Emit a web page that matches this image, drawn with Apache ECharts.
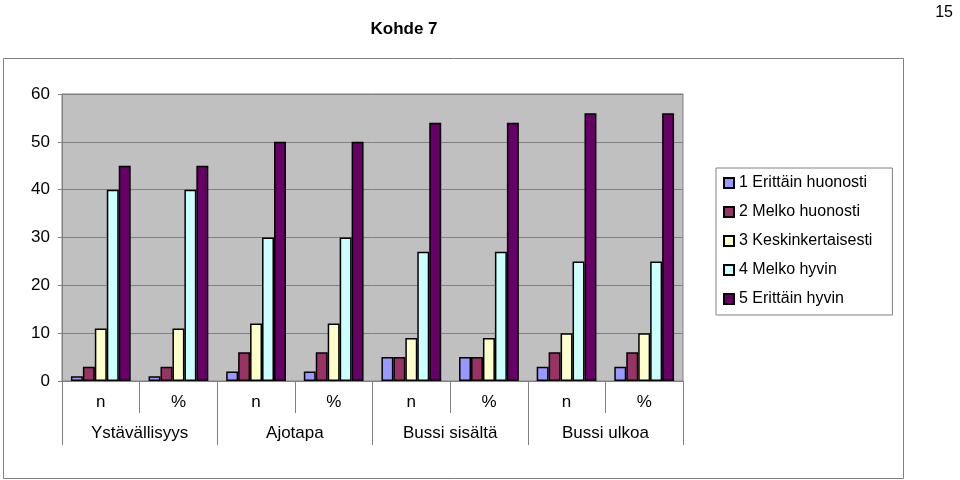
<!DOCTYPE html>
<html>
<head>
<meta charset="utf-8">
<script src="https://cdn.jsdelivr.net/npm/echarts@6/dist/echarts.min.js"></script>
<style>html,body{margin:0;padding:0;background:#fff;}#c{width:960px;height:480px;}</style>
</head>
<body>
<div id="c"></div>
<script>
var categories = ['n', '%', 'n', '%', 'n', '%', 'n', '%'];
var groups = ['Ystävällisyys', 'Ajotapa', 'Bussi sisältä', 'Bussi ulkoa'];
var seriesNames = ['1 Erittäin huonosti', '2 Melko huonosti', '3 Keskinkertaisesti', '4 Melko hyvin', '5 Erittäin hyvin'];
var s1 = [1, 1, 2, 2, 5, 5, 3, 3];
var s2 = [3, 3, 6, 6, 5, 5, 6, 6];
var s3 = [11, 11, 12, 12, 9, 9, 10, 10];
var s4 = [40, 40, 30, 30, 27, 27, 25, 25];
var s5 = [45, 45, 50, 50, 54, 54, 56, 56];
var yTicks = [0, 10, 20, 30, 40, 50, 60];

var colors = ['#9999FF', '#993366', '#FFFFCC', '#CCFFFF', '#660066'];
var values = [s1, s2, s3, s4, s5];
var font = 'Liberation Sans, Arial, sans-serif';

var chart = echarts.init(document.getElementById('c'));
chart.setOption({
  animation: false,
  textStyle: {fontFamily: font},
  title: [
    {text: 'Kohde 7', left: 399, top: 16, textAlign: 'center',
     textStyle: {fontSize: 17, fontWeight: 'bold', color: '#000', fontFamily: font}},
    {text: '15', right: 2, top: 0,
     textStyle: {fontSize: 16, fontWeight: 'normal', color: '#000', fontFamily: font}}
  ],
  graphic: [
    {type: 'rect', shape: {x: 3.5, y: 58.5, width: 900, height: 420},
     style: {fill: 'none', stroke: '#808080', lineWidth: 1}, silent: true}
  ],
  legend: {
    orient: 'vertical',
    left: 716, top: 168,
    padding: [7, 20, 8, 7],
    borderColor: '#808080', borderWidth: 1,
    itemWidth: 10, itemHeight: 10, itemGap: 13,
    icon: 'rect',
    textStyle: {fontSize: 16, color: '#000', fontFamily: font},
    data: seriesNames
  },
  grid: {
    left: 62, right: 277, top: 94, bottom: 99,
    show: true, backgroundColor: '#C0C0C0', borderColor: '#808080', borderWidth: 1
  },
  xAxis: [
    {type: 'category', data: categories, position: 'bottom', offset: 0,
     axisLine: {show: true, lineStyle: {color: '#808080'}},
     axisTick: {show: true, length: 32, lineStyle: {color: '#808080'}},
     axisLabel: {fontSize: 17, color: '#000', margin: 13, fontFamily: font}},
    {type: 'category', data: groups, position: 'bottom', offset: 0,
     axisLine: {show: false},
     axisTick: {show: true, length: 64, lineStyle: {color: '#808080'}},
     axisLabel: {fontSize: 17, color: '#000', margin: 44, fontFamily: font}}
  ],
  yAxis: {
    type: 'value', min: yTicks[0], max: yTicks[yTicks.length - 1], interval: 10,
    axisLine: {show: true, lineStyle: {color: '#808080'}},
    axisTick: {show: true, length: 4, lineStyle: {color: '#808080'}},
    axisLabel: {fontSize: 17, color: '#000', margin: 12, fontFamily: font},
    splitLine: {show: true, lineStyle: {color: '#808080', width: 1}}
  },
  series: seriesNames.map(function (name, i) {
    return {
      name: name, type: 'bar', xAxisIndex: 0, data: values[i],
      barGap: '0%', barCategoryGap: '23%',
      itemStyle: {color: colors[i], borderColor: '#000', borderWidth: 1.5}
    };
  })
});
</script>
</body>
</html>
